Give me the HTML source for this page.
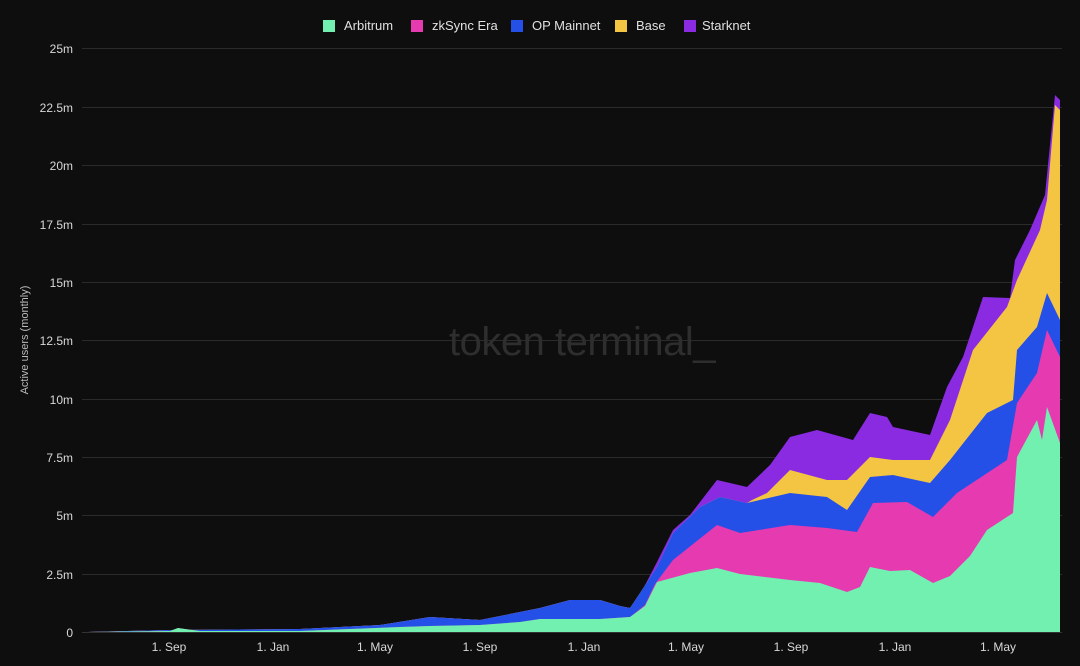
<!DOCTYPE html>
<html><head><meta charset="utf-8"><style>
html,body{margin:0;padding:0;background:#0e0e0e;}
svg{display:block;font-family:"Liberation Sans",sans-serif;}
</style></head><body>
<svg width="1080" height="666" viewBox="0 0 1080 666" xmlns="http://www.w3.org/2000/svg">
<rect width="1080" height="666" fill="#0e0e0e"/>
<g stroke="#2b2b2b" stroke-width="1">
<line x1="82" x2="1062" y1="48.5" y2="48.5"/><line x1="82" x2="1062" y1="107.5" y2="107.5"/>
<line x1="82" x2="1062" y1="165.5" y2="165.5"/><line x1="82" x2="1062" y1="224.5" y2="224.5"/>
<line x1="82" x2="1062" y1="282.5" y2="282.5"/><line x1="82" x2="1062" y1="340.5" y2="340.5"/>
<line x1="82" x2="1062" y1="399.5" y2="399.5"/><line x1="82" x2="1062" y1="457.5" y2="457.5"/>
<line x1="82" x2="1062" y1="515.5" y2="515.5"/><line x1="82" x2="1062" y1="574.5" y2="574.5"/>
</g>
<g fill="#d8d8d8" font-size="12" text-anchor="end">
<text x="73" y="53">25m</text><text x="73" y="112">22.5m</text><text x="73" y="170">20m</text>
<text x="73" y="229">17.5m</text><text x="73" y="287">15m</text><text x="73" y="345">12.5m</text>
<text x="73" y="404">10m</text><text x="73" y="462">7.5m</text><text x="73" y="520">5m</text>
<text x="73" y="579">2.5m</text><text x="73" y="637">0</text>
</g>
<text x="28" y="340" fill="#bbb" font-size="11" text-anchor="middle" transform="rotate(-90 28 340)">Active users (monthly)</text>
<text x="582" y="355" fill="#2e2e2e" font-size="40" text-anchor="middle" letter-spacing="-0.5">token terminal_</text>
<!-- purple -->
<path fill="#8a2be2" d="M88 632 L170 630 L300 629 L380 625 L430 617 L480 620 L540 608 L570 600 L600 600 L620 606 L630 608 L640 595 L657 562 L673 530 L690 515 L717 480 L747 487 L770 465 L790 437 L817 430 L853 440 L870 413 L887 417 L893 427 L930 435 L947 387 L963 357 L983 297 L1010 298 L1015 260 L1030 230 L1045 195 L1055 95 L1060 100 L1060 632 Z"/>
<!-- yellow -->
<path fill="#f4c542" d="M88 632 L170 630 L300 629 L380 625 L430 617 L480 620 L540 608 L570 600 L600 600 L620 606 L630 608 L640 593 L657 567 L673 533 L700 507 L720 497 L747 503 L752 500 L767 493 L790 470 L827 480 L847 480 L870 457 L893 460 L930 460 L950 420 L973 350 L1007 307 L1017 280 L1040 230 L1047 200 L1055 105 L1060 110 L1060 632 Z"/>
<!-- blue -->
<path fill="#2550e8" d="M88 632 L170 630 L300 629 L380 625 L430 617 L480 620 L540 608 L570 600 L600 600 L620 606 L630 608 L640 593 L657 567 L673 533 L700 507 L720 497 L747 503 L790 493 L827 497 L847 510 L870 477 L893 475 L930 483 L950 460 L987 413 L1013 400 L1017 350 L1037 327 L1047 293 L1060 320 L1060 632 Z"/>
<!-- pink -->
<path fill="#e63ab0" d="M88 632 L170 631 L178 628 L185 629 L200 631 L300 631 L350 629 L400 627 L430 626 L480 625 L520 622 L540 619 L600 619 L630 617 L645 605 L655 584 L673 560 L717 525 L740 533 L790 525 L827 528 L857 532 L873 503 L907 502 L933 517 L957 493 L1007 460 L1017 403 L1037 373 L1047 330 L1060 357 L1060 632 Z"/>
<!-- green -->
<path fill="#72f0b0" d="M88 632 L170 631 L178 628 L185 629 L200 631 L300 631 L350 629 L400 627 L430 626 L480 625 L520 622 L540 619 L600 619 L630 617 L645 606 L657 582 L690 573 L717 568 L740 574 L790 580 L820 583 L847 592 L860 587 L870 567 L890 571 L910 570 L933 583 L950 576 L970 556 L987 530 L1013 513 L1017 457 L1037 420 L1042 440 L1047 407 L1060 443 L1060 632 Z"/>
<line x1="82" x2="1062" y1="632.5" y2="632.5" stroke="#333"/>
<g fill="#d8d8d8" font-size="12" text-anchor="middle">
<text x="169" y="651">1. Sep</text><text x="273" y="651">1. Jan</text><text x="375" y="651">1. May</text>
<text x="480" y="651">1. Sep</text><text x="584" y="651">1. Jan</text><text x="686" y="651">1. May</text>
<text x="791" y="651">1. Sep</text><text x="895" y="651">1. Jan</text><text x="998" y="651">1. May</text>
</g>
<g font-size="13" fill="#e0e0e0">
<rect x="323" y="20" width="12" height="12" fill="#72f0b0"/><text x="344" y="30">Arbitrum</text>
<rect x="411" y="20" width="12" height="12" fill="#e63ab0"/><text x="432" y="30">zkSync Era</text>
<rect x="511" y="20" width="12" height="12" fill="#2550e8"/><text x="532" y="30">OP Mainnet</text>
<rect x="615" y="20" width="12" height="12" fill="#f4c542"/><text x="636" y="30">Base</text>
<rect x="684" y="20" width="12" height="12" fill="#8a2be2"/><text x="702" y="30">Starknet</text>
</g>
</svg>
</body></html>
